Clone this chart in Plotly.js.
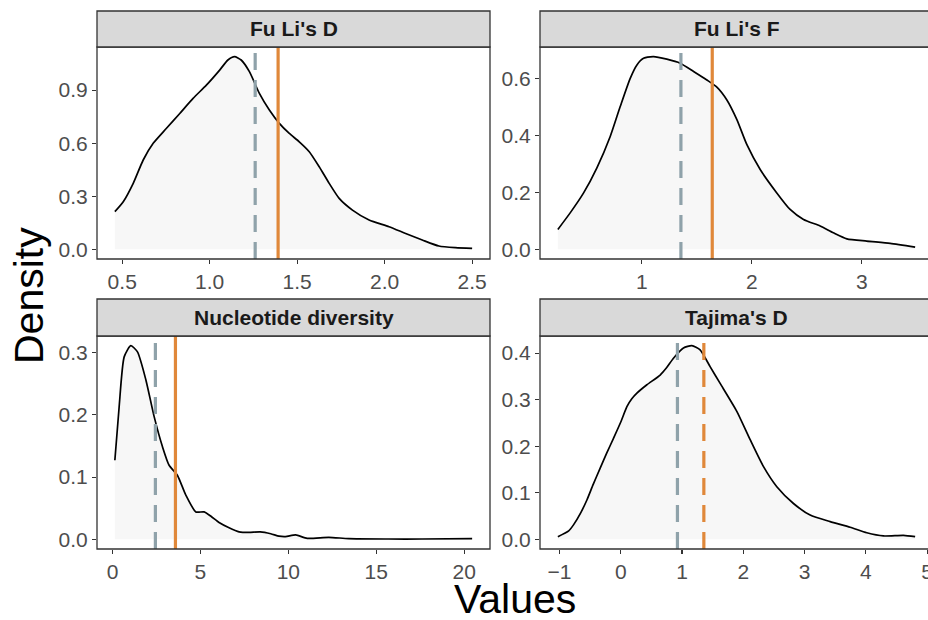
<!DOCTYPE html>
<html>
<head>
<meta charset="utf-8">
<script src="https://cdn.plot.ly/plotly-3.0.1.min.js"></script>
<style>html,body{margin:0;padding:0;background:#fff;}#chart{width:928px;height:620px;}</style>
</head>
<body>
<div id="chart"></div>
<script>
// ---- data ----
const panelNames = ["Fu Li's D", "Fu Li's F", "Nucleotide diversity", "Tajima's D"];

const fuLiD_x = [0.458,0.506,0.563,0.620,0.677,0.753,0.829,0.905,0.981,1.057,1.104,1.142,1.180,1.227,1.284,1.341,1.398,1.455,1.512,1.569,1.626,1.683,1.740,1.816,1.911,2.025,2.120,2.215,2.310,2.405,2.500];
const fuLiD_y = [0.213,0.269,0.373,0.505,0.599,0.684,0.768,0.853,0.928,1.013,1.070,1.089,1.070,1.004,0.881,0.787,0.712,0.655,0.608,0.552,0.467,0.373,0.288,0.222,0.166,0.128,0.090,0.053,0.019,0.0094,0.0056];

const fuLiF_x = [0.236,0.348,0.470,0.591,0.712,0.803,0.894,0.955,1.015,1.106,1.227,1.348,1.470,1.591,1.682,1.773,1.864,1.955,2.076,2.227,2.348,2.470,2.621,2.742,2.864,3.045,3.258,3.485];
const fuLiF_y = [0.070,0.128,0.198,0.286,0.396,0.501,0.600,0.647,0.670,0.676,0.667,0.653,0.624,0.594,0.569,0.524,0.455,0.367,0.280,0.198,0.140,0.105,0.082,0.058,0.037,0.029,0.021,0.008];

const nucDiv_x = [0.136,0.38,0.665,1.045,1.42,1.90,2.37,2.84,3.22,3.69,4.17,4.74,5.21,5.6,6.06,6.6,7.20,7.76,8.4,9.0,9.47,9.84,10.42,11.07,12.3,13.43,15.7,17.6,20.45];
const nucDiv_y = [0.127,0.213,0.293,0.311,0.301,0.256,0.197,0.149,0.119,0.103,0.071,0.044,0.044,0.037,0.027,0.019,0.012,0.011,0.012,0.009,0.005,0.0043,0.007,0.0016,0.0032,0.0011,0.0005,0.0005,0.001];

const tajD_x = [-1.027,-0.85,-0.772,-0.65,-0.553,-0.45,-0.336,-0.23,-0.119,0.0,0.100,0.18,0.263,0.426,0.643,0.75,0.860,1.023,1.160,1.295,1.458,1.622,1.894,2.112,2.330,2.547,2.819,3.091,3.418,3.744,4.016,4.288,4.615,4.805];
const tajD_y = [0.0057,0.018,0.031,0.058,0.0845,0.118,0.153,0.185,0.217,0.252,0.285,0.302,0.314,0.332,0.353,0.369,0.389,0.411,0.416,0.407,0.371,0.335,0.275,0.214,0.156,0.113,0.077,0.052,0.038,0.026,0.014,0.0072,0.0086,0.0057];

const greyLineValues   = [1.26, 1.355, 2.44, 0.925];
const orangeLineValues = [1.391, 1.64, 3.58, 1.356];

const xTickVals = [[0.5,1.0,1.5,2.0,2.5],[1,2,3],[0,5,10,15,20],[-1,0,1,2,3,4,5]];
const xTickText = [["0.5","1.0","1.5","2.0","2.5"],["1","2","3"],["0","5","10","15","20"],["\u22121","0","1","2","3","4","5"]];
const yTickVals = [[0,0.3,0.6,0.9],[0,0.2,0.4,0.6],[0,0.1,0.2,0.3],[0,0.1,0.2,0.3,0.4]];
const yTickText = [["0.0","0.3","0.6","0.9"],["0.0","0.2","0.4","0.6"],["0.0","0.1","0.2","0.3"],["0.0","0.1","0.2","0.3","0.4"]];

const xs = [fuLiD_x, fuLiF_x, nucDiv_x, tajD_x];
const ys = [fuLiD_y, fuLiF_y, nucDiv_y, tajD_y];

// ---- layout geometry (pixels) ----
const W = 928, H = 620;
const geo = [
  {l:97,  r:490, st:11,  t:47,  b:259},
  {l:540, r:933, st:11,  t:47,  b:259},
  {l:97,  r:490, st:299, t:336, b:549},
  {l:540, r:933, st:299, t:336, b:549}
];
const px = v => v / W;
const py = v => 1 - v / H;

const FONT = 'Liberation Sans, Arial, sans-serif';
const greyCol = '#8FA2AA', orangeCol = '#E0883A';
const orangeDash = [false, false, false, true];

const traces = [];
const shapes = [];
const annotations = [];
const layout = {
  width: W, height: H,
  margin: {l:0, r:0, t:0, b:0},
  paper_bgcolor: '#ffffff', plot_bgcolor: 'rgba(0,0,0,0)',
  showlegend: false,
  font: {family: FONT}
};

for (let i = 0; i < 4; i++) {
  const g = geo[i];
  const ax = i === 0 ? '' : String(i + 1);
  const xa = 'x' + ax, ya = 'y' + ax;
  traces.push({
    type: 'scatter', mode: 'lines',
    x: xs[i], y: ys[i],
    xaxis: xa, yaxis: ya,
    line: {color: '#000000', width: 1.7, shape: 'spline', smoothing: 0.6},
    fill: 'tozeroy', fillcolor: '#F7F7F7',
    hoverinfo: 'skip'
  });
  // ranges with 5% expansion
  const xmin = Math.min(...xs[i]), xmax = Math.max(...xs[i]);
  const span = xmax - xmin;
  let r0 = xmin - 0.05 * span, r1 = xmax + 0.05 * span;
  const rEdge = Math.min(g.r, W);
  if (g.r > W) r1 = r0 + (r1 - r0) * (rEdge - g.l) / (g.r - g.l);
  const ymax = Math.max(...ys[i]);
  const tickCommon = {
    showgrid: false, zeroline: false, showline: false,
    ticks: 'outside', ticklen: 4, tickwidth: 1.1, tickcolor: '#333333',
    tickfont: {family: FONT, size: 21, color: '#4D4D4D'},
    ticklabeloverflow: 'allow',
    fixedrange: true
  };
  layout['xaxis' + ax] = Object.assign({}, tickCommon, {
    domain: [px(g.l), px(rEdge)], range: [r0, r1], anchor: ya,
    tickmode: 'array', tickvals: xTickVals[i], ticktext: xTickText[i]
  });
  layout['yaxis' + ax] = Object.assign({}, tickCommon, {
    domain: [py(g.b), py(g.t)], range: [-0.05 * ymax, 1.05 * ymax], anchor: xa,
    tickmode: 'array', tickvals: yTickVals[i], ticktext: yTickText[i]
  });
  // vertical lines
  shapes.push({type:'line', xref: xa, yref: ya + ' domain', x0: greyLineValues[i], x1: greyLineValues[i], y0: 0, y1: 1,
    line: {color: greyCol, width: 3.2, dash: '17px,10px'}, layer: 'above'});
  shapes.push({type:'line', xref: xa, yref: ya + ' domain', x0: orangeLineValues[i], x1: orangeLineValues[i], y0: 0, y1: 1,
    line: {color: orangeCol, width: 3.2, dash: orangeDash[i] ? '17px,10px' : 'solid'}, layer: 'above'});
  // panel border
  shapes.push({type:'rect', xref:'paper', yref:'paper', x0: px(g.l), x1: px(g.r), y0: py(g.b), y1: py(g.t),
    line: {color: '#333333', width: 1.3}, fillcolor: 'rgba(0,0,0,0)', layer: 'above'});
  // strip
  shapes.push({type:'rect', xref:'paper', yref:'paper', x0: px(g.l), x1: px(g.r), y0: py(g.t), y1: py(g.st),
    line: {color: '#333333', width: 1.3}, fillcolor: '#D9D9D9', layer: 'above'});
  annotations.push({xref:'paper', yref:'paper', x: px((g.l + g.r) / 2), y: py((g.st + g.t) / 2),
    xanchor:'center', yanchor:'middle', showarrow:false, text: '<b>' + panelNames[i] + '</b>',
    font: {family: FONT, size: 21, color: '#1A1A1A'}});
}

annotations.push({xref:'paper', yref:'paper', x: px(515), y: py(599), xanchor:'center', yanchor:'middle',
  showarrow:false, text:'Values', font:{family: FONT, size: 41, color:'#000000'}});
annotations.push({xref:'paper', yref:'paper', x: px(29), y: py(296), xanchor:'center', yanchor:'middle',
  showarrow:false, text:'Density', textangle:-90, font:{family: FONT, size: 41, color:'#000000'}});

layout.shapes = shapes;
layout.annotations = annotations;

Plotly.newPlot('chart', traces, layout, {staticPlot: true, displayModeBar: false});
</script>
</body>
</html>
